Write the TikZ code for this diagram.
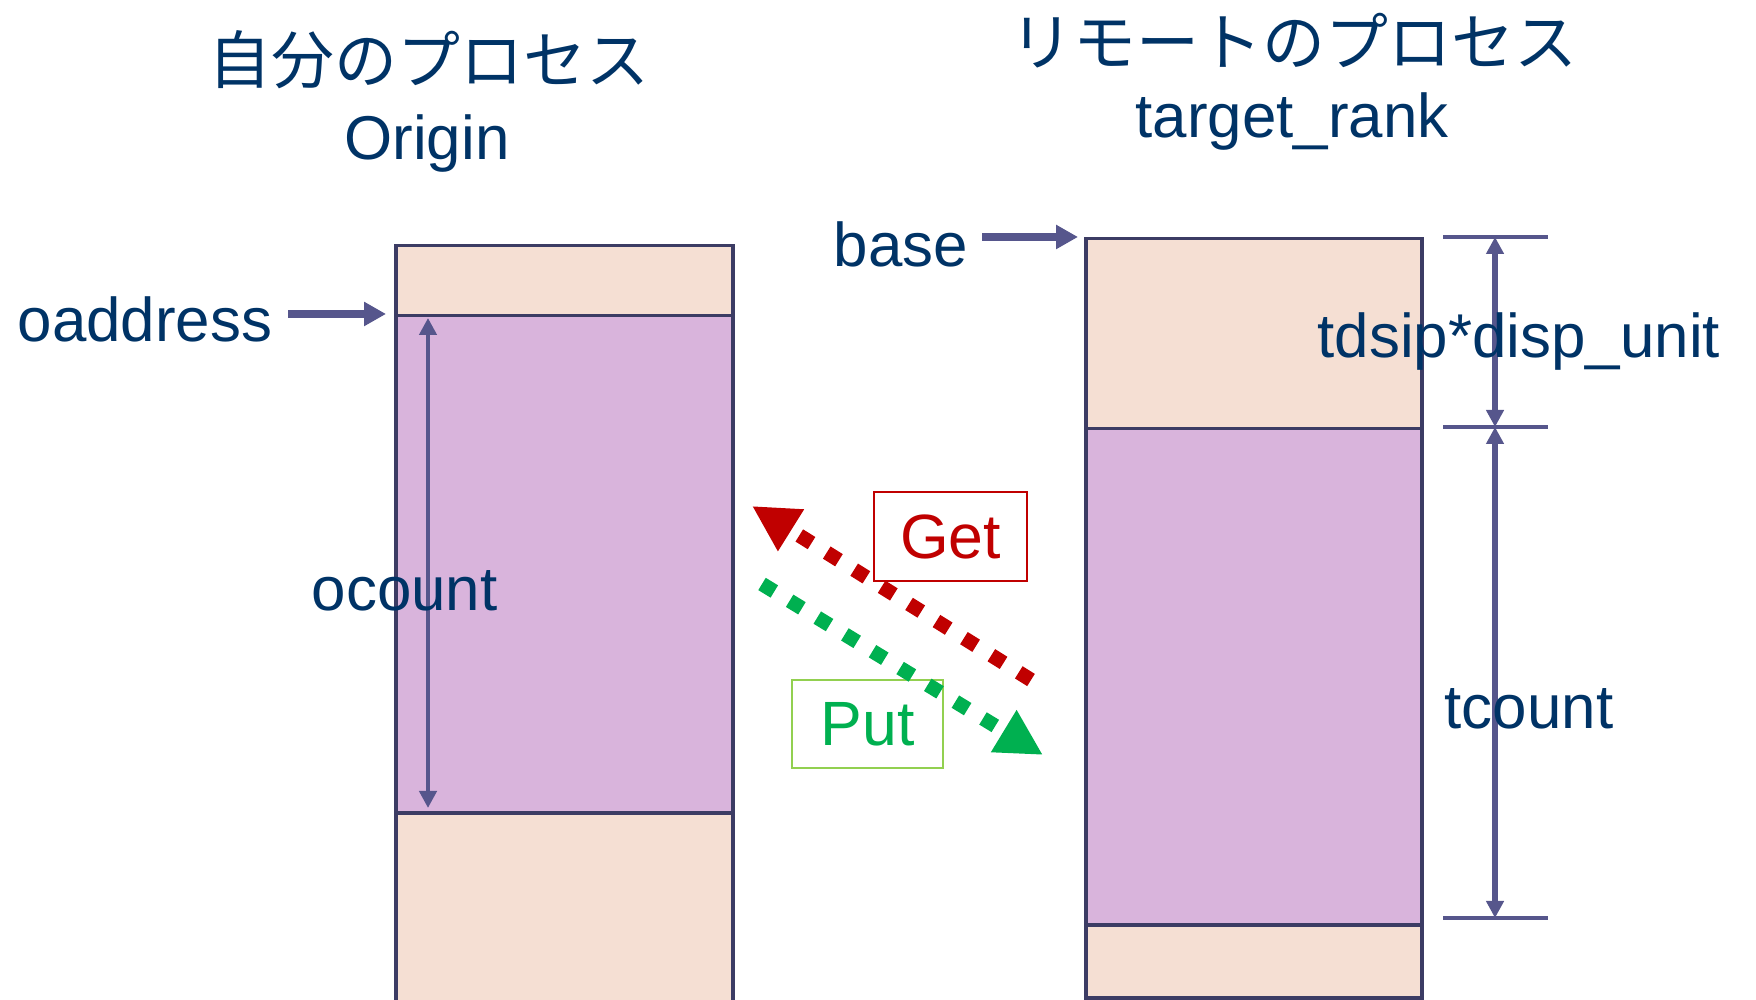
\documentclass[tikz,border=0pt]{standalone}
\usepackage{fontspec}
\setmainfont{Liberation Sans}
\newfontfamily\jpfont{Noto Sans CJK JP}
\usepackage{tikz}
\usetikzlibrary{arrows.meta}
\definecolor{txtblue}{RGB}{0,51,102}
\definecolor{ptrblue}{RGB}{86,86,140}
\definecolor{edgeblue}{RGB}{60,60,100}
\definecolor{memtan}{RGB}{245,223,211}
\definecolor{mempurple}{RGB}{217,180,220}
\definecolor{getred}{RGB}{192,0,0}
\definecolor{putgreen}{RGB}{0,176,80}
\definecolor{putframe}{RGB}{146,208,80}

\begin{document}
\begin{tikzpicture}[inner sep=0mm,
  seg/.style={rectangle,draw=edgeblue,line width=1pt,anchor=north west,minimum width=3.37cm},
  lbl/.style={text=txtblue,font=\fontsize{17.6}{20}\selectfont,anchor=base west},
  ttl/.style={text=txtblue,font=\jpfont\fontsize{17.9}{20}\selectfont},
  ptr/.style={draw=ptrblue,line width=2.3pt,-{Triangle[length=0.22cm,width=0.23cm]}},
  dimline/.style={draw=ptrblue,line width=1.6pt,{Triangle[length=0.17cm,width=0.17cm]}-{Triangle[length=0.17cm,width=0.17cm]}},
  tick/.style={draw=ptrblue,line width=1pt},
  opbox/.style={rectangle,line width=0.6pt,font=\fontsize{17.8}{20}\selectfont},
  oparrow/.style={line width=4.1pt,dash pattern=on 4.1pt off 5.1pt,-{Triangle[length=0.46cm,width=0.46cm]}}]
\clip (0,0) rectangle (17.56,10);
% Memory Blocks
\node at (3.94,7.56) [seg,fill=memtan,minimum height=0.70cm] (OrgTop) {};
\node at (3.94,6.86) [seg,fill=mempurple,minimum height=4.97cm] (OrgData) {};
\node at (3.94,1.89) [seg,fill=memtan,minimum height=2.30cm] (OrgBot) {};
\node at (10.84,7.63) [seg,fill=memtan,minimum width=3.36cm,minimum height=1.90cm] (TgtTop) {};
\node at (10.84,5.73) [seg,fill=mempurple,minimum width=3.36cm,minimum height=4.96cm] (TgtData) {};
\node at (10.84,0.77) [seg,fill=memtan,minimum width=3.36cm,minimum height=0.73cm] (TgtBot) {};
% Titles
\node at (4.29,9.40) [ttl] (OrgTitle) {自分のプロセス};
\node at (4.27,8.40) [lbl,anchor=base] (OrgName) {Origin};
\node at (12.94,9.59) [ttl] (TgtTitle) {リモートのプロセス};
\node at (12.92,8.62) [lbl,anchor=base] (TgtName) {target\_rank};
% Pointers
\coordinate (OAddrTail) at (2.88,6.86);
\coordinate (BaseTail) at (9.82,7.63);
\draw [ptr,shorten >=0.08cm] (OAddrTail) -- (OrgData.north west);
\draw [ptr,shorten >=0.06cm] (BaseTail) -- (TgtTop.north west);
% Extents
\coordinate (OCntTop) at (4.28,6.86);
\coordinate (OCntBot) at (4.28,1.89);
\coordinate (DimA) at (14.95,7.63);
\coordinate (DimB) at (14.95,5.73);
\coordinate (DimC) at (14.95,0.82);
\draw [dimline,line width=1.2pt,shorten <=0.04cm,shorten >=0.03cm] (OCntTop) -- (OCntBot);
\draw [tick] ([xshift=-0.52cm]DimA) -- ([xshift=0.53cm]DimA);
\draw [tick] ([xshift=-0.52cm]DimB) -- ([xshift=0.53cm]DimB);
\draw [tick] ([xshift=-0.52cm]DimC) -- ([xshift=0.53cm]DimC);
\draw [dimline] (DimA) -- (DimB);
\draw [dimline] (DimB) -- (DimC);
% Labels
\node at (0.17,6.58) [lbl] (OAddr) {oaddress};
\node at (8.33,7.33) [lbl] (Base) {base};
\node at (3.11,3.89) [lbl] (OCount) {ocount};
\node at (13.17,6.42) [lbl] (TDisp) {tdsip*disp\_unit};
\node at (14.44,2.71) [lbl] (TCount) {tcount};
% Get and Put
\node at (9.505,4.635) [opbox,draw=getred,text=getred,minimum width=1.53cm,minimum height=0.89cm] (GetBox) {Get};
\node at (8.675,2.76) [opbox,draw=putframe,text=putgreen,minimum width=1.51cm,minimum height=0.88cm] (PutBox) {Put};
\coordinate (GetTail) at (10.31,3.20);
\coordinate (GetTip) at (7.52,4.94);
\coordinate (PutTail) at (7.62,4.16);
\coordinate (PutTip) at (10.43,2.45);
\draw [oparrow,draw=getred] (GetTail) -- (GetTip);
\draw [oparrow,draw=putgreen] (PutTail) -- (PutTip);

\end{tikzpicture}
\end{document}
